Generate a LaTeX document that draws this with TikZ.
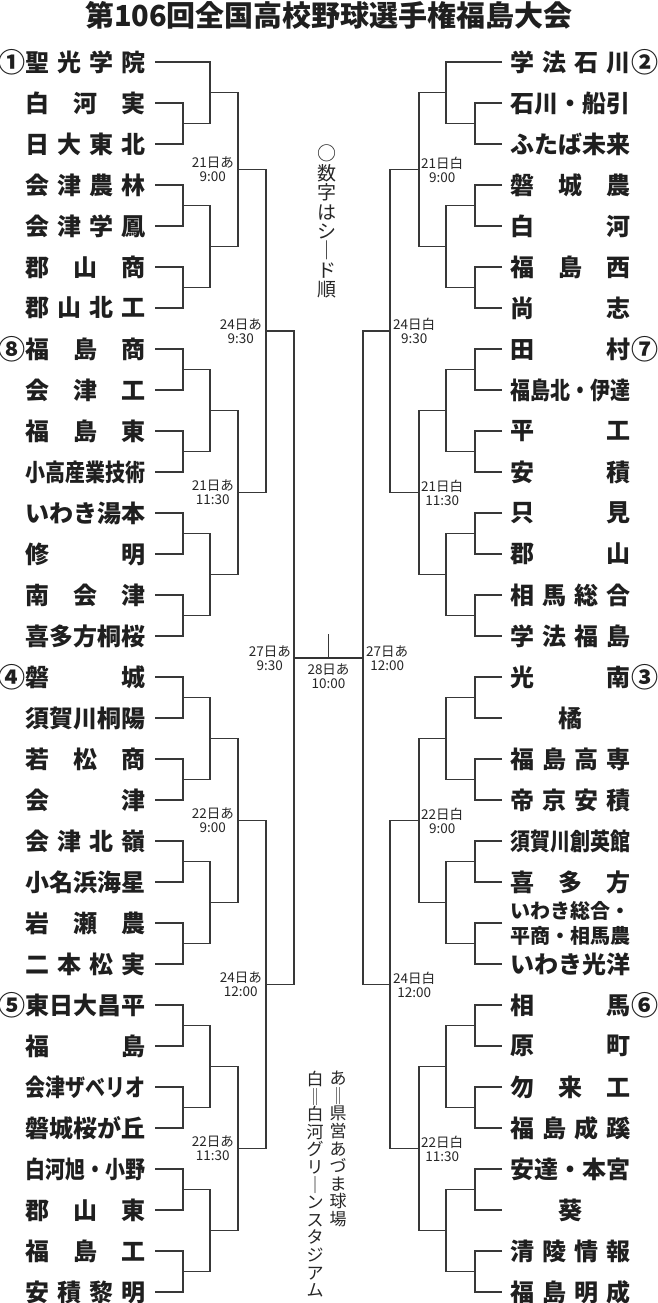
\documentclass[tikz,border=0pt]{standalone}
\usepackage{fontspec}
\usepackage{graphicx}
\usetikzlibrary{calc}
\newfontfamily\jp{Noto Sans CJK JP}
\def\gobb#1{}
\def\sprEnd{}
\def\spr#1{\sprA#1\sprEnd}
\def\sprA#1#2{#1\ifx\sprEnd#2\expandafter\gobb\else\hfill\expandafter\sprA\fi#2}
\tikzset{
 team/.style={inner sep=0pt, font=\jp\bfseries\fontsize{24}{26}\selectfont, text=black!88},
 seed/.style={inner sep=0pt, font=\jp\bfseries\fontsize{27}{28}\selectfont, text=black!88},
 br/.style={line width=1.3pt, draw=black!78, line join=miter},
 fin/.style={line width=2pt, draw=black!80},
 dl/.style={inner sep=0pt, align=center, font=\jp\fontsize{13.5}{14}\selectfont, text=black!85},
 vt/.style={inner sep=0pt, align=center, text=black!85},
 ttl/.style={inner sep=0pt, font=\jp\bfseries\fontsize{29}{30}\selectfont, text=black!88}
}
\newcommand\tL[2]{\node[team,anchor=west] (L#1) at (25,{62+41*(#1-1)}) {\makebox[120pt][s]{#2}};\coordinate (l#1) at ([xshift=10pt]L#1.east);}
\newcommand\tR[2]{\node[team,anchor=west] (R#1) at (510,{62+41*(#1-1)}) {\makebox[120pt][s]{#2}};\coordinate (r#1) at ([xshift=-8pt]R#1.west);}
\newcommand\brk[4]{%
  \draw[br] (#1) -- (#1 -| #3) -- (#2 -| #3) -- (#2);
  \coordinate (#4) at ($(#1 -| #3)!.5!(#2 -| #3)$);}
\newcommand\eight[6]{%
  \pgfmathtruncatemacro\iA{#2}\pgfmathtruncatemacro\iB{#2+1}%
  \pgfmathtruncatemacro\iC{#2+2}\pgfmathtruncatemacro\iD{#2+3}%
  \pgfmathtruncatemacro\iE{#2+4}\pgfmathtruncatemacro\iF{#2+5}%
  \pgfmathtruncatemacro\iG{#2+6}\pgfmathtruncatemacro\iH{#2+7}%
  \brk{#1\iA}{#1\iB}{#3}{#6a}
  \brk{#1\iC}{#1\iD}{#3}{#6b}
  \brk{#1\iE}{#1\iF}{#3}{#6c}
  \brk{#1\iG}{#1\iH}{#3}{#6d}
  \brk{#6a}{#6b}{#4}{#6e}
  \brk{#6c}{#6d}{#4}{#6f}
  \brk{#6e}{#6f}{#5}{#6}}
\begin{document}
\begin{tikzpicture}[x=1pt,y=-1pt]
\useasboundingbox (0,0) rectangle (657,1303);
\fill[white] (0,0) rectangle (657,1303);
\node[ttl] (title) at (329,15) {第106回全国高校野球選手権福島大会};
% level x positions
\coordinate (xa1) at (183,0);\coordinate (xa2) at (210,0);\coordinate (xa3) at (238,0);
\coordinate (xa4) at (266,0);\coordinate (xa5) at (294,0);
\coordinate (xb1) at (475,0);\coordinate (xb2) at (446,0);\coordinate (xb3) at (419,0);
\coordinate (xb4) at (390,0);\coordinate (xb5) at (363,0);
% left teams
\tL{1}{\spr{聖光学院}}
\tL{2}{\spr{白河実}}
\tL{3}{\spr{日大東北}}
\tL{4}{\spr{会津農林}}
\tL{5}{\spr{会津学鳳}}
\tL{6}{\spr{郡山商}}
\tL{7}{\spr{郡山北工}}
\tL{8}{\spr{福島商}}
\tL{9}{\spr{会津工}}
\tL{10}{\spr{福島東}}
\tL{11}{\scalebox{0.833}[1]{小高産業技術}\hfill}
\tL{12}{\spr{いわき湯本}}
\tL{13}{\spr{修明}}
\tL{14}{\spr{南会津}}
\tL{15}{\spr{喜多方桐桜}}
\tL{16}{\spr{磐城}}
\tL{17}{\spr{須賀川桐陽}}
\tL{18}{\spr{若松商}}
\tL{19}{\spr{会津}}
\tL{20}{\spr{会津北嶺}}
\tL{21}{\spr{小名浜海星}}
\tL{22}{\spr{岩瀬農}}
\tL{23}{\spr{二本松実}}
\tL{24}{\spr{東日大昌平}}
\tL{25}{\spr{福島}}
\tL{26}{\scalebox{0.833}[1]{会津ザベリオ}\hfill}
\tL{27}{\spr{磐城桜が丘}}
\tL{28}{\scalebox{0.833}[1]{白河旭・小野}\hfill}
\tL{29}{\spr{郡山東}}
\tL{30}{\spr{福島工}}
\tL{31}{\spr{安積黎明}}
% right teams
\tR{1}{\spr{学法石川}}
\tR{2}{\spr{石川・船引}}
\tR{3}{\spr{ふたば未来}}
\tR{4}{\spr{磐城農}}
\tR{5}{\spr{白河}}
\tR{6}{\spr{福島西}}
\tR{7}{\spr{尚志}}
\tR{8}{\spr{田村}}
\tR{9}{\scalebox{0.833}[1]{福島北・伊達}\hfill}
\tR{10}{\spr{平工}}
\tR{11}{\spr{安積}}
\tR{12}{\spr{只見}}
\tR{13}{\spr{郡山}}
\tR{14}{\spr{相馬総合}}
\tR{15}{\spr{学法福島}}
\tR{16}{\spr{光南}}
\tR{17}{\hfill 橘\hfill}
\tR{18}{\spr{福島高専}}
\tR{19}{\spr{帝京安積}}
\tR{20}{\scalebox{0.833}[1]{須賀川創英館}\hfill}
\tR{21}{\spr{喜多方}}
\node[team,anchor=west,align=left,font=\jp\bfseries\fontsize{20}{25}\selectfont] (R22) at (510,923) {\makebox[120pt][s]{\spr{いわき総合・}}\\\makebox[120pt][s]{\spr{平商・相馬農}}};
\coordinate (r22) at ([xshift=-8pt]R22.west);
\tR{23}{\spr{いわき光洋}}
\tR{24}{\spr{相馬}}
\tR{25}{\spr{原町}}
\tR{26}{\spr{勿来工}}
\tR{27}{\spr{福島成蹊}}
\tR{28}{\spr{安達・本宮}}
\tR{29}{\hfill 葵\hfill}
\tR{30}{\spr{清陵情報}}
\tR{31}{\spr{福島明成}}
% seeds
\node[seed] (sL1) at (12,62) {①};
\node[seed] (sL8) at (12,349) {⑧};
\node[seed] (sL16) at (12,677) {④};
\node[seed] (sL24) at (12,1005) {⑤};
\node[seed] (sR1) at (645,62) {②};
\node[seed] (sR8) at (645,349) {⑦};
\node[seed] (sR16) at (645,677) {③};
\node[seed] (sR24) at (645,1005) {⑥};
% left brackets
\brk{l2}{l3}{xa1}{A1a}
\brk{l1}{A1a}{xa2}{A1e}
\brk{l4}{l5}{xa1}{A1b}
\brk{l6}{l7}{xa1}{A1c}
\brk{A1b}{A1c}{xa2}{A1f}
\brk{A1e}{A1f}{xa3}{A1}
\eight{l}{8}{xa1}{xa2}{xa3}{A2}
\eight{l}{16}{xa1}{xa2}{xa3}{A3}
\eight{l}{24}{xa1}{xa2}{xa3}{A4}
\brk{A1}{A2}{xa4}{AB}
\brk{A3}{A4}{xa4}{AC}
\brk{AB}{AC}{xa5}{AF}
% right brackets
\brk{r2}{r3}{xb1}{B1a}
\brk{r1}{B1a}{xb2}{B1e}
\brk{r4}{r5}{xb1}{B1b}
\brk{r6}{r7}{xb1}{B1c}
\brk{B1b}{B1c}{xb2}{B1f}
\brk{B1e}{B1f}{xb3}{B1}
\eight{r}{8}{xb1}{xb2}{xb3}{B2}
\eight{r}{16}{xb1}{xb2}{xb3}{B3}
\eight{r}{24}{xb1}{xb2}{xb3}{B4}
\brk{B1}{B2}{xb4}{BB}
\brk{B3}{B4}{xb4}{BC}
\brk{BB}{BC}{xb5}{BF}
% final
\draw[fin] (AF) -- (BF);
\coordinate (FM) at ($(AF)!.5!(BF)$);
\draw[br] (FM) -- ([yshift=24pt]FM);
% date labels
\node[dl,anchor=east] (dA1) at ([xshift=-4pt]A1) {21日あ\\9:00};
\node[dl,anchor=east] (dA2) at ([xshift=-4pt]A2) {21日あ\\11:30};
\node[dl,anchor=east] (dA3) at ([xshift=-4pt]A3) {22日あ\\9:00};
\node[dl,anchor=east] (dA4) at ([xshift=-4pt]A4) {22日あ\\11:30};
\node[dl,anchor=east] (dAB) at ([xshift=-4pt]AB) {24日あ\\9:30};
\node[dl,anchor=east] (dAC) at ([xshift=-4pt]AC) {24日あ\\12:00};
\node[dl,anchor=east] (dAF) at ([xshift=-3pt]AF) {27日あ\\9:30};
\node[dl,anchor=west] (dB1) at ([xshift=2pt]B1) {21日白\\9:00};
\node[dl,anchor=west] (dB2) at ([xshift=2pt]B2) {21日白\\11:30};
\node[dl,anchor=west] (dB3) at ([xshift=2pt]B3) {22日白\\9:00};
\node[dl,anchor=west] (dB4) at ([xshift=2pt]B4) {22日白\\11:30};
\node[dl,anchor=west] (dBB) at ([xshift=3pt]BB) {24日白\\9:30};
\node[dl,anchor=west] (dBC) at ([xshift=3pt]BC) {24日白\\12:00};
\node[dl,anchor=west] (dBF) at ([xshift=3pt]BF) {27日あ\\12:00};
\node[dl,anchor=north] (dF) at ([yshift=-6pt]FM) {28日あ\\10:00};
% vertical notes
\node[vt,anchor=north,font=\jp\fontsize{19}{19.4}\selectfont] (note) at (327,145) {○\\数\\字\\は\\シ\\｜\\ド\\順};
\node[vt,anchor=north,font=\jp\fontsize{17}{17.6}\selectfont] (stA) at (338,1071) {あ\\‖\\県\\営\\あ\\づ\\ま\\球\\場};
\node[vt,anchor=north,font=\jp\fontsize{17}{17.6}\selectfont] (stS) at (315,1071) {白\\‖\\白\\河\\グ\\リ\\｜\\ン\\ス\\タ\\ジ\\ア\\ム};
\end{tikzpicture}
\end{document}
